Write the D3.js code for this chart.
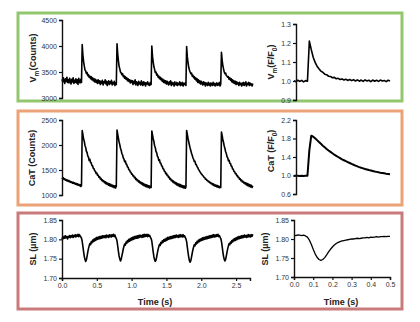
<!DOCTYPE html>
<html><head><meta charset="utf-8">
<script src="https://cdn.jsdelivr.net/npm/d3@7"></script>
<style>html,body{margin:0;padding:0;background:#fff}svg{display:block}</style>
</head><body>
<script>
// ---- data ----
const dtLeft = 0.01;   // sampling step of left traces (s)
const dtRight = 0.01;  // sampling step of right traces (s)

const vmCounts = [
3360,3310,3390,3330,3280,3370,3320,3400,3300,3350,
3290,3380,3330,3270,3360,3310,3390,3280,3340,3300,
3370,3290,3350,3260,3380,3320,3290,3360,3300,
4030,
3830,3700,3620,3540,3520,3470,3490,3430,3450,3400,
3420,3370,3410,3350,3390,3330,3370,3310,3360,3300,
3340,3280,3350,3290,3330,3260,3320,3280,3340,3250,
3310,3290,3350,3270,3320,3240,3300,3330,3260,3310,
3280,3340,3250,3300,3270,3320,3240,3290,3260,
4040,
3850,3720,3610,3560,3500,3480,3450,3470,3410,3430,
3380,3410,3360,3390,3330,3370,3320,3350,3290,3340,
3300,3330,3260,3320,3280,3350,3250,3310,3290,3240,
3320,3270,3300,3250,3330,3280,3240,3310,3260,3300,
3230,3290,3270,3310,3250,3280,3240,3300,3260,
4000,
3800,3690,3600,3550,3490,3500,3440,3460,3400,3420,
3370,3400,3350,3380,3320,3360,3300,3340,3290,3330,
3270,3320,3280,3250,3310,3270,3330,3240,3300,3260,
3290,3230,3310,3270,3250,3300,3240,3280,3260,3310,
3240,3290,3250,3300,3230,3280,3260,3290,3240,
3990,
3790,3680,3590,3540,3500,3470,3480,3420,3440,3390,
3410,3360,3390,3330,3370,3300,3350,3290,3330,3270,
3320,3280,3250,3310,3260,3300,3230,3290,3270,3240,
3300,3250,3280,3230,3290,3260,3240,3300,3250,3280,
3230,3270,3290,3240,3280,3250,3300,3230,3270,
3880,
3730,3620,3560,3500,3470,3480,3430,3420,3400,3410,
3360,3390,3340,3370,3310,3350,3290,3330,3280,3320,
3260,3310,3270,3290,3240,3300,3260,3280,3230,3290,
3250,3300,3240,3270,3310,3230,3280,3260,3300,3240,
3290,3250,3270,3230,3280
];

const catCounts = [
1340,1320,1345,1310,1325,1295,1310,1280,1300,1270,
1290,1260,1275,1250,1265,1235,1255,1230,1245,1215,
1235,1205,1225,1195,1215,1185,1205,1170,1190,
2290,
2210,2120,2075,1990,1950,1875,1850,1780,1760,1690,
1715,1650,1640,1590,1580,1530,1525,1480,1475,1430,
1440,1395,1400,1355,1365,1320,1335,1290,1305,1270,
1285,1245,1265,1225,1250,1210,1235,1195,1225,1180,
1215,1170,1200,1160,1190,1145,1185,1140,1175,
2300,
2215,2135,2060,2005,1935,1895,1830,1800,1740,1720,
1665,1680,1620,1610,1560,1555,1505,1500,1460,1455,
1415,1420,1380,1385,1345,1355,1310,1325,1285,1300,
1260,1280,1240,1260,1220,1245,1200,1230,1185,1215,
1170,1205,1160,1195,1150,1185,1140,1175,1150,
2280,
2200,2125,2070,1985,1945,1870,1845,1775,1755,1690,
1705,1640,1635,1585,1575,1525,1520,1475,1470,1425,
1435,1390,1395,1350,1360,1315,1330,1285,1300,1260,
1280,1240,1260,1220,1245,1200,1230,1185,1220,1170,
1210,1160,1195,1150,1185,1140,1180,1135,1160,
2290,
2210,2130,2065,2000,1940,1890,1835,1795,1745,1715,
1670,1675,1615,1605,1565,1550,1510,1495,1465,1450,
1420,1415,1385,1380,1350,1350,1315,1320,1290,1295,
1265,1275,1245,1255,1225,1240,1205,1225,1190,1210,
1175,1200,1165,1190,1155,1180,1145,1170,1150,
2260,
2185,2110,2050,1980,1930,1865,1830,1765,1745,1685,
1695,1635,1630,1580,1570,1520,1515,1470,1465,1425,
1430,1385,1390,1350,1355,1315,1325,1285,1300,1260,
1275,1240,1255,1220,1245,1200,1230,1185,1220,1170,
1205,1160,1195,1150,1185
];

const slLeft = [
1.800,1.806,1.802,1.808,1.803,1.809,1.804,1.807,1.801,1.808,
1.805,1.810,1.804,1.809,1.806,1.811,1.805,1.810,1.807,1.812,
1.806,1.811,1.808,1.813,1.807,1.812,1.809,1.806,1.803,
1.795,1.782,1.768,1.756,1.748,1.743,1.747,1.756,1.767,1.776,
1.783,1.789,1.786,1.794,1.791,1.798,1.794,1.801,1.796,1.803,
1.798,1.805,1.800,1.806,1.801,1.807,1.802,1.808,1.803,1.809,
1.804,1.809,1.805,1.810,1.804,1.811,1.806,1.810,1.805,1.812,
1.807,1.811,1.806,1.812,1.808,1.813,1.807,1.811,1.806,1.802,
1.796,1.783,1.769,1.757,1.749,1.744,1.748,1.757,1.766,1.775,
1.782,1.788,1.785,1.793,1.790,1.797,1.793,1.800,1.795,1.802,
1.797,1.804,1.799,1.806,1.800,1.807,1.802,1.808,1.803,1.809,
1.803,1.810,1.805,1.811,1.806,1.810,1.805,1.812,1.806,1.813,
1.807,1.812,1.808,1.813,1.807,1.812,1.808,1.810,1.805,1.802,
1.795,1.781,1.767,1.755,1.747,1.743,1.746,1.755,1.765,1.774,
1.781,1.787,1.784,1.792,1.789,1.796,1.792,1.799,1.795,1.801,
1.796,1.803,1.798,1.805,1.800,1.806,1.801,1.807,1.802,1.808,
1.803,1.809,1.804,1.810,1.805,1.811,1.806,1.810,1.805,1.811,
1.806,1.812,1.807,1.811,1.806,1.812,1.807,1.809,1.805,1.801,
1.794,1.780,1.766,1.754,1.745,1.741,1.745,1.754,1.764,1.773,
1.780,1.786,1.783,1.791,1.788,1.795,1.791,1.798,1.794,1.800,
1.796,1.802,1.797,1.804,1.799,1.805,1.800,1.806,1.801,1.807,
1.802,1.808,1.803,1.809,1.804,1.810,1.805,1.811,1.806,1.812,
1.806,1.811,1.807,1.812,1.808,1.813,1.807,1.810,1.806,1.802,
1.795,1.782,1.768,1.756,1.748,1.744,1.748,1.757,1.767,1.776,
1.783,1.789,1.786,1.793,1.790,1.797,1.793,1.800,1.796,1.802,
1.797,1.804,1.799,1.806,1.801,1.807,1.802,1.808,1.803,1.809,
1.804,1.810,1.805,1.811,1.806,1.810,1.805,1.811,1.806,1.812,
1.807,1.811,1.806,1.812,1.808,1.813
];

const vmRatio = [
1.002,0.996,1.004,0.998,1.003,0.995,1.002,0.999,1.210,1.165,
1.125,1.098,1.078,1.064,1.052,1.046,1.036,1.033,1.025,1.024,
1.017,1.019,1.012,1.014,1.008,1.011,1.005,1.009,1.003,1.008,
1.002,1.007,1.000,1.006,0.999,1.005,0.998,1.006,1.000,1.004,
0.997,1.005,0.999,1.004,0.998,1.005,1.000,1.003,0.997,1.004,
1.000
];

const catRatio = [
0.995,0.992,0.996,0.990,0.994,0.991,0.993,0.995,1.550,1.860,
1.840,1.805,1.765,1.725,1.685,1.645,1.610,1.575,1.540,1.510,
1.480,1.450,1.425,1.400,1.375,1.350,1.330,1.310,1.290,1.270,
1.250,1.232,1.215,1.198,1.182,1.168,1.155,1.142,1.130,1.118,
1.107,1.097,1.087,1.078,1.069,1.061,1.054,1.047,1.040,1.034,
1.028
];

const slRight = [
1.810,1.809,1.811,1.810,1.809,1.810,1.808,1.805,1.797,1.786,
1.773,1.761,1.752,1.746,1.744,1.746,1.751,1.758,1.766,1.773,
1.779,1.784,1.788,1.791,1.793,1.795,1.796,1.797,1.798,1.799,
1.800,1.800,1.801,1.802,1.801,1.802,1.803,1.803,1.804,1.803,
1.805,1.804,1.805,1.806,1.805,1.806,1.806,1.807,1.806,1.807,
1.807
];

const ticksVmCounts = [3000,3500,4000,4500];
const ticksVmRatio = [0.9,1.0,1.1,1.2,1.3];
const ticksCatCounts = [1000,1500,2000,2500];
const ticksCatRatio = [0.6,1.0,1.4,1.8,2.2];
const ticksSL = [1.70,1.75,1.80,1.85];
const ticksTimeLeft = [0,0.5,1.0,1.5,2.0,2.5];
const ticksTimeRight = [0,0.1,0.2,0.3,0.4,0.5];

// ---- drawing ----
const W = 420, H = 322;
const FONT = "'Liberation Sans', Arial, sans-serif";
const svg = d3.select("body").append("svg").attr("width", W).attr("height", H);

// panel frames
const frames = [
  {y0: 13, y1: 101, color: "#93c76f"},
  {y0: 111, y1: 205, color: "#eba276"},
  {y0: 213, y1: 309, color: "#c97a7b"}
];
frames.forEach(f => {
  svg.append("rect").attr("x", 18).attr("y", f.y0).attr("width", 384).attr("height", f.y1 - f.y0)
    .attr("fill", "none").attr("stroke", f.color).attr("stroke-width", 3);
});

const xLeft = d3.scaleLinear().domain([0, 2.7]).range([62, 250]);
const xRight = d3.scaleLinear().domain([0, 0.5]).range([294, 390]);

function yAxis(g, y, ticks, fmt, xpos) {
  const ax = d3.axisLeft(y).tickValues(ticks).tickFormat(d3.format(fmt)).tickSize(3).tickPadding(2);
  const gg = g.append("g").attr("transform", `translate(${xpos},0)`).call(ax);
  styleAxis(gg);
}
function xAxis(g, x, ticks, fmt, ypos) {
  const ax = d3.axisBottom(x).tickValues(ticks).tickFormat(d3.format(fmt)).tickSize(3).tickPadding(2);
  const gg = g.append("g").attr("transform", `translate(0,${ypos})`).call(ax);
  styleAxis(gg);
}
function styleAxis(gg) {
  gg.select(".domain").attr("stroke", "#111").attr("stroke-width", 1.4);
  gg.selectAll(".tick line").attr("stroke", "#111").attr("stroke-width", 1.2);
  gg.selectAll(".tick text").attr("fill", "#333").attr("font-size", 7).attr("font-family", FONT);
}
function trace(x, y, values, dt, width) {
  const line = d3.line().x((d, i) => x(i * dt)).y(d => y(d));
  svg.append("path").datum(values).attr("d", line).attr("fill", "none")
    .attr("stroke", "#000").attr("stroke-width", width).attr("stroke-linejoin", "round");
}
function yLabel(cx, cy, parts) {
  const t = svg.append("text").attr("transform", `translate(${cx},${cy}) rotate(-90)`)
    .attr("text-anchor", "middle").attr("font-family", FONT).attr("font-size", 9)
    .attr("font-weight", "bold").attr("fill", "#222");
  let shift = 0;
  parts.forEach(p => {
    const s = t.append("tspan").text(p.t);
    const target = p.sub ? 2.5 : 0;
    if (target !== shift) { s.attr("dy", target - shift); shift = target; }
    if (p.sub) s.attr("font-size", 6.5);
  });
}

// Row 1: Vm
const yVmC = d3.scaleLinear().domain([3000, 4500]).range([98, 20]);
const yVmR = d3.scaleLinear().domain([0.9, 1.3]).range([100, 24]);
trace(xLeft, yVmC, vmCounts, dtLeft, 1.6);
trace(xRight, yVmR, vmRatio, dtRight, 1.6);
yAxis(svg, yVmC, ticksVmCounts, "d", 62);
yAxis(svg, yVmR, ticksVmRatio, ".1f", 296);
yLabel(36, 58, [{t: "V"}, {t: "m", sub: true}, {t: "(Counts)"}]);
yLabel(274, 62, [{t: "V"}, {t: "m", sub: true}, {t: "(F/F"}, {t: "0", sub: true}, {t: ")"}]);

// Row 2: CaT
const yCaC = d3.scaleLinear().domain([1000, 2500]).range([195, 120]);
const yCaR = d3.scaleLinear().domain([0.6, 2.2]).range([194, 120]);
trace(xLeft, yCaC, catCounts, dtLeft, 1.6);
trace(xRight, yCaR, catRatio, dtRight, 2);
yAxis(svg, yCaC, ticksCatCounts, "d", 62);
yAxis(svg, yCaR, ticksCatRatio, ".1f", 296);
yLabel(35, 158, [{t: "CaT (Counts)"}]);
yLabel(274, 151, [{t: "CaT (F/F"}, {t: "0", sub: true}, {t: ")"}]);

// Row 3: SL
const ySLL = d3.scaleLinear().domain([1.70, 1.85]).range([278, 220]);
const ySLR = d3.scaleLinear().domain([1.70, 1.85]).range([277, 220]);
trace(xLeft, ySLL, slLeft, dtLeft, 1.6);
trace(xRight, ySLR, slRight, dtRight, 1.3);
yAxis(svg, ySLL, ticksSL, ".2f", 62);
yAxis(svg, ySLR, ticksSL, ".2f", 294);
xAxis(svg, xLeft, ticksTimeLeft, ".1f", 278);
xAxis(svg, xRight, ticksTimeRight, ".1f", 277);
yLabel(36, 249, [{t: "SL (µm)"}]);
yLabel(268, 249, [{t: "SL (µm)"}]);

svg.append("text").attr("x", 155).attr("y", 305).attr("text-anchor", "middle")
  .attr("font-family", FONT).attr("font-size", 9).attr("font-weight", "bold").attr("fill", "#222").text("Time (s)");
svg.append("text").attr("x", 341).attr("y", 305).attr("text-anchor", "middle")
  .attr("font-family", FONT).attr("font-size", 9).attr("font-weight", "bold").attr("fill", "#222").text("Time (s)");
</script>
</body></html>
